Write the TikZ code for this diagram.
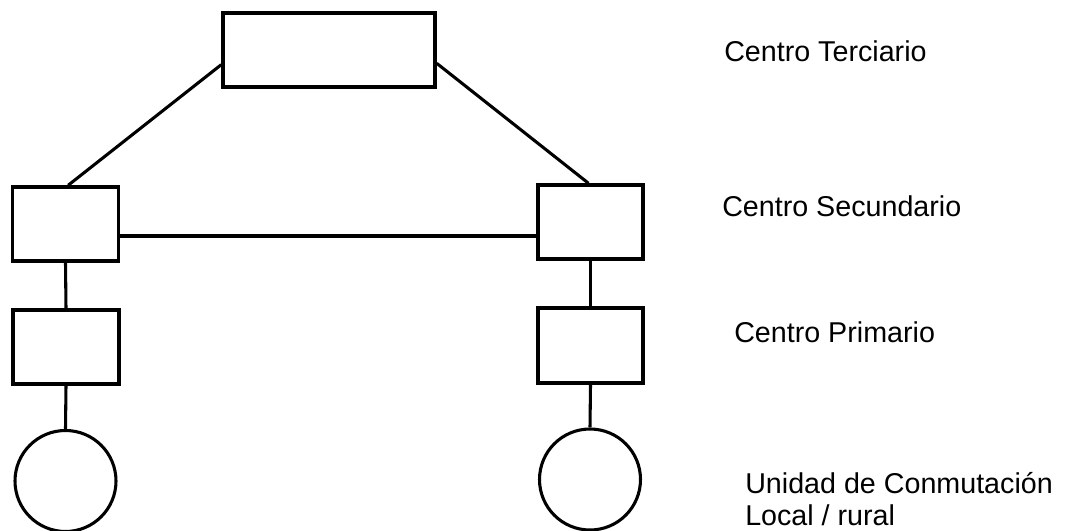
\documentclass[tikz,border=0pt]{standalone}
\usepackage{fontspec}
\setmainfont{Liberation Sans}
\begin{document}
\begin{tikzpicture}[x=0.75pt,y=-0.75pt,
  box/.style={draw=black,line width=2.6pt,rectangle,inner sep=0pt},
  unit/.style={draw=black,line width=2.3pt,circle,inner sep=0pt,minimum size=101*0.75pt},
  conn/.style={draw=black,line width=2.3pt},
  lbl/.style={anchor=base west,inner sep=0pt,font=\fontsize{21.5}{23.3}\selectfont,align=left}]
\useasboundingbox (0,0) rectangle (1071,531);
% tertiary
\node[box,minimum width=212*0.75pt,minimum height=74*0.75pt] (ter) at (329,50) {};
% secondary
\node[box,minimum width=106*0.75pt,minimum height=74*0.75pt] (secL) at (65.5,224) {};
\node[box,minimum width=105*0.75pt,minimum height=74*0.75pt] (secR) at (590.5,222) {};
% primary
\node[box,minimum width=106*0.75pt,minimum height=74*0.75pt] (priL) at (66,347) {};
\node[box,minimum width=105*0.75pt,minimum height=75*0.75pt] (priR) at (590.5,345.5) {};
% local units
\node[unit] (uL) at (65.5,481) {};
\node[unit] (uR) at (590,479.5) {};
% connectors
\coordinate (terL) at ([yshift=-11pt]ter.west);
\coordinate (terR) at ([yshift=-10pt]ter.east);
\draw[conn] (terL) -- ([xshift=2pt]secL.north);
\draw[conn] (terR) -- ([xshift=-1.5pt]secR.north);
\draw[conn] (secL.east |- 0,236) -- (secR.west |- 0,236);
\draw[conn] (secL.south) -- (priL.north);
\draw[conn] (secR.south) -- (priR.north);
\draw[conn] (priL.south) -- (uL.north);
\draw[conn] (priR.south) -- (uR.north);
% labels
\node[lbl] (lt) at (724,62) {Centro Terciario};
\node[lbl] (ls) at (722,217) {Centro Secundario};
\node[lbl] (lp) at (734,342) {Centro Primario};
\node[lbl] (lu) at (745,525) {Unidad de Conmutación\\Local / rural};
\end{tikzpicture}
\end{document}
